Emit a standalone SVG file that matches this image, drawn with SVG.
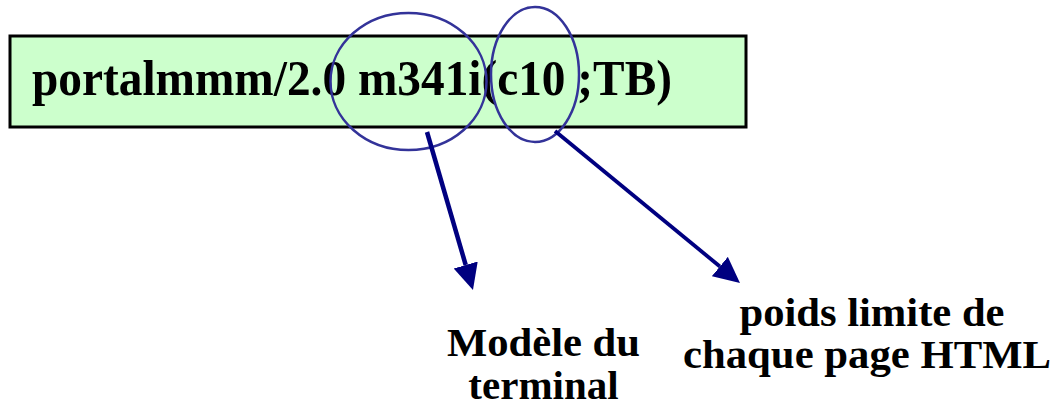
<svg xmlns="http://www.w3.org/2000/svg" width="1058" height="409" viewBox="0 0 1058 409">
  <style>
    .t { font-family: "Liberation Serif", "Times New Roman", serif; font-weight: bold; fill: #000; }
    .lbl { font-size: 41px; text-anchor: middle; }
    .ring { fill: none; stroke: #333399; stroke-width: 2.5; }
    .arr { fill: none; stroke: #000080; }
  </style>
  <defs>
    <marker id="head" markerUnits="userSpaceOnUse" markerWidth="28" markerHeight="26" refX="0" refY="12.5" orient="auto">
      <path d="M0,0 L26,12.5 L0,25 Z" fill="#000080"/>
    </marker>
  </defs>
  <rect width="1058" height="409" fill="#ffffff"/>
  <g id="header">
    <rect x="10" y="36" width="736" height="91" fill="#CCFFCC" stroke="#000" stroke-width="3"/>
    <text class="t" x="32" y="95" font-size="50" textLength="640" lengthAdjust="spacingAndGlyphs">portalmmm/2.0 m341i(c10 ;TB)</text>
  </g>
  <g id="ring-model">
    <ellipse class="ring" cx="408.5" cy="81.5" rx="78" ry="68.5"/>
  </g>
  <g id="ring-weight">
    <ellipse class="ring" cx="535" cy="74.5" rx="44" ry="67.5"/>
  </g>
  <g id="connectors">
    <line class="arr" x1="427" y1="132" x2="465.7" y2="265" stroke-width="4.5" marker-end="url(#head)"/>
    <line class="arr" x1="555" y1="131" x2="719.9" y2="266.5" stroke-width="3.8" marker-end="url(#head)"/>
  </g>
  <g id="label-model">
    <text class="t lbl" x="543.5" y="356" textLength="193" lengthAdjust="spacingAndGlyphs">Modèle du</text>
    <text class="t lbl" x="543.5" y="399">terminal</text>
  </g>
  <g id="label-weight">
    <text class="t lbl" x="872" y="326" textLength="265" lengthAdjust="spacingAndGlyphs">poids limite de</text>
    <text class="t lbl" x="867" y="368" textLength="368" lengthAdjust="spacingAndGlyphs">chaque page HTML</text>
  </g>
</svg>
